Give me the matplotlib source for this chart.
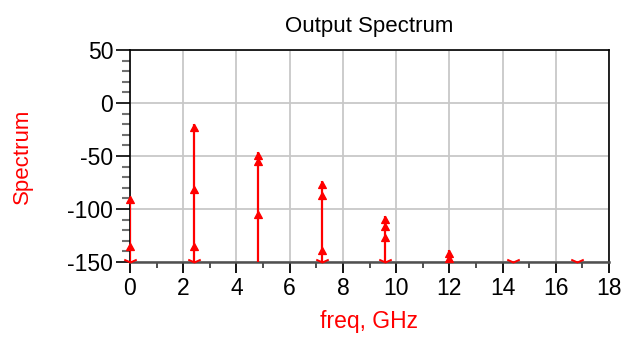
import numpy as np
import matplotlib
matplotlib.use('Agg')
import matplotlib.pyplot as plt
from matplotlib.path import Path
from matplotlib.ticker import MultipleLocator

# harmonic frequencies (GHz)
freq = [0.0, 2.4, 4.8, 7.2, 9.6, 12.0, 14.4, 16.8]

# spectrum traces (dBm), values below -150 are off-scale
spec_a = [-88, -20, -46, -74, -107, -139, -170, -175]
spec_b = [-132, -78, -52, -84, -113, -143, np.nan, np.nan]
spec_c = [-170, -132, -102, -136, -124, np.nan, np.nan, np.nan]
spec_d = [np.nan, -175, np.nan, -175, -175, np.nan, np.nan, np.nan]

y_min, y_max = -150, 50
x_min, x_max = 0, 18

plt.rcParams['font.family'] = ['Liberation Sans', 'DejaVu Sans']
plt.rcParams['axes.unicode_minus'] = False

# arrow head with tip on the data point, and open chevron for off-scale values
arrow = Path([(0, 0), (0.55, -1), (-0.55, -1), (0, 0)],
             [Path.MOVETO, Path.LINETO, Path.LINETO, Path.CLOSEPOLY])
chevron = Path([(-1, 0.45), (0, 0), (1, 0.45)],
               [Path.MOVETO, Path.LINETO, Path.LINETO])

fig = plt.figure(figsize=(6.35, 3.38), dpi=100)
ax = fig.add_axes([130 / 635, 76 / 338, 479 / 635, 212 / 338])

red = '#ff0000'
spec = np.array([spec_a, spec_b, spec_c, spec_d], dtype=float)
for i, f in enumerate(freq):
    vals = spec[:, i]
    vals = vals[~np.isnan(vals)]
    top = vals.max()
    if top > y_min:
        ax.vlines(f, y_min, top, color=red, lw=1.6, zorder=3)
    shown = vals[vals >= y_min]
    low = vals[vals < y_min]
    ax.plot([f] * len(shown), shown, linestyle='none', marker=arrow,
            markersize=10, color=red, zorder=4, clip_on=False)
    if len(low):
        ax.plot([f], [y_min], linestyle='none', marker=chevron,
                markersize=9, markerfacecolor='none', markeredgecolor=red,
                markeredgewidth=1.4, zorder=4, clip_on=False)

ax.set_xlim(x_min, x_max)
ax.set_ylim(y_min, y_max)
ax.xaxis.set_major_locator(MultipleLocator(2))
ax.xaxis.set_minor_locator(MultipleLocator(1))
ax.yaxis.set_major_locator(MultipleLocator(50))
ax.yaxis.set_minor_locator(MultipleLocator(10))

ax.grid(True, which='major', color='#c8c8c8', lw=1.3, zorder=0)
ax.tick_params(axis='y', which='major', length=10, width=1.2, color='black',
               labelsize=16.5, pad=2)
ax.tick_params(axis='y', which='minor', length=6, width=1.5, color='#707070')
ax.tick_params(axis='x', which='major', length=8, width=1.3, color='black',
               labelsize=16.5, pad=3)
ax.tick_params(axis='x', which='minor', length=4, width=1.3, color='#404040')

for side in ['left', 'top', 'right']:
    ax.spines[side].set_color('black')
    ax.spines[side].set_linewidth(1.2)
ax.spines['bottom'].set_color('#505050')
ax.spines['bottom'].set_linewidth(1.8)

ax.set_title('Output Spectrum', fontsize=16, pad=13)
ax.set_xlabel('freq, GHz', color=red, fontsize=16.5, labelpad=7)
ax.set_ylabel('Spectrum', color=red, fontsize=16)
ax.yaxis.set_label_coords(-97 / 479, 0.5)

fig.savefig('out.png', dpi=100)
